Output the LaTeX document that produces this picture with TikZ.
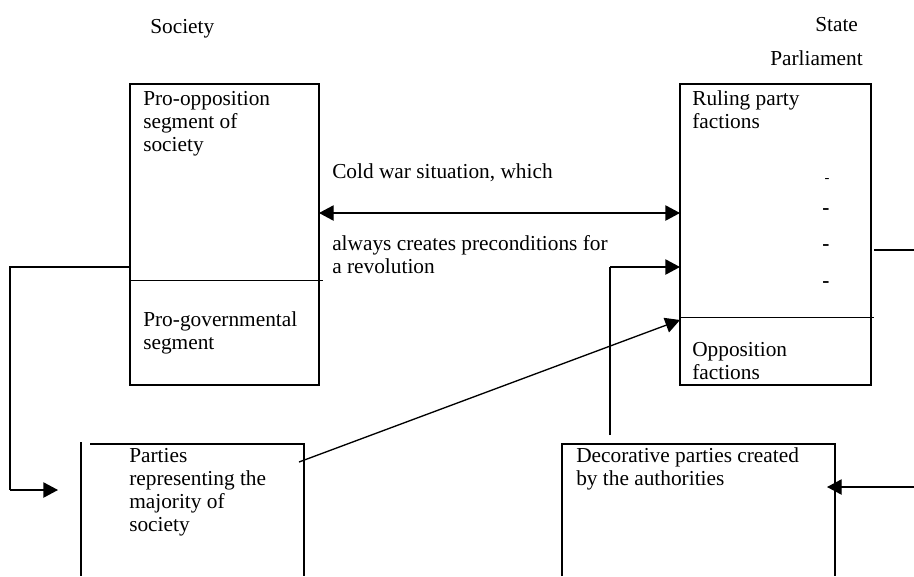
\documentclass[tikz,border=0pt]{standalone}
\usepackage{fontspec}
\setmainfont{Liberation Serif}
\usetikzlibrary{arrows.meta}

\begin{document}
\begin{tikzpicture}[x=0.75pt,y=0.75pt,yscale=-1,xscale=1,
  txt/.style={anchor=north west,inner sep=0pt,align=left,font=\fontsize{16}{17.25}\selectfont},
  dsh/.style={anchor=center,inner sep=0pt,font=\bfseries\fontsize{16}{17}\selectfont},
  tip/.style={-{Triangle[length=11pt,width=11.5pt]}},
  box/.style={line width=1.2pt}]

\useasboundingbox (0,0) rectangle (914,576);

\draw [box] (130,84) rectangle (319,385);
\draw (130,280) -- (323,280);
\draw [box] (680,84) rectangle (871,385);
\draw (680,317) -- (874,317);
\draw [box] (81,442) -- (81,576);
\draw [box] (90,444) -- (304,444) -- (304,576);
\draw [box] (562,576) -- (562,444) -- (835,444) -- (835,576);

\coordinate (socOut) at (130,267);
\coordinate (bendA) at (10,267);
\coordinate (bendB) at (10,490);
\coordinate (partIn) at (58,490);
\coordinate (socR) at (319,213);
\coordinate (stateL) at (680,213);
\coordinate (partOut) at (299,462);
\coordinate (oppIn) at (680,320);
\coordinate (decoOut) at (610,435);
\coordinate (bendC) at (610,267);
\coordinate (rulIn) at (680,267);
\coordinate (stateOut) at (874,250);
\coordinate (edgeR) at (914,250);
\coordinate (edgeRB) at (914,487);
\coordinate (decoIn) at (827,487);

\draw [line width=1pt] (socOut) -- (bendA) -- (bendB);
\draw [line width=1pt,tip] (bendB) -- (partIn);
\draw [line width=1pt,{Triangle[length=11pt,width=11.5pt]}-{Triangle[length=11pt,width=11.5pt]}] (socR) -- (stateL);
\draw [line width=1pt,tip] (partOut) -- (oppIn);
\draw [line width=1pt] (decoOut) -- (bendC);
\draw [line width=1pt,tip] (bendC) -- (rulIn);
\draw [line width=1pt] (stateOut) -- (edgeR);
\draw [line width=1pt,tip] (edgeRB) -- (decoIn);

% baseline minus strut height (16px)
\node [txt] (soc) at (150,17) {\strut Society};
\node [txt] (state) at (815,15) {\strut State};
\node [txt] (parl) at (770,49) {\strut Parliament};
\node [txt] (proopp) at (143,89) {\strut Pro-opposition\\segment of\\society};
\node [txt] (cold) at (332,162) {\strut Cold war situation, which};
\node [txt] (always) at (332,234) {\strut always creates preconditions for\\a revolution};
\node [txt] (progov) at (143,310) {\strut Pro-governmental\\segment};
\node [txt] (ruling) at (692,89) {\strut Ruling party\\factions};
\node [txt] (oppf) at (692,340) {\strut Opposition\\factions};
\node [txt] (parties) at (129,446) {\strut Parties\\representing the\\majority of\\society};
\node [txt] (deco) at (576,446) {\strut Decorative parties created\\by the authorities};

\node [dsh,font=\fontsize{11}{12}\selectfont] (d1) at (827,180) {-};
\node [dsh] (d2) at (826,212) {-};
\node [dsh] (d3) at (826,248) {-};
\node [dsh] (d4) at (826,285) {-};

\end{tikzpicture}
\end{document}
